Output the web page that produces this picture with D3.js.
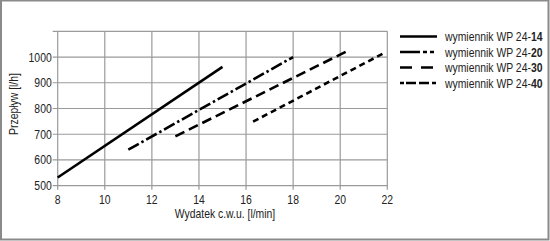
<!DOCTYPE html>
<html>
<head>
<meta charset="utf-8">
<script src="https://cdn.jsdelivr.net/npm/d3@7"></script>
<style>
  body { margin: 0; background: #fff; }
  svg { display: block; }
  text { font-family: "Liberation Sans", Arial, sans-serif; fill: #222; }
</style>
</head>
<body>
<svg width="550" height="241"></svg>
<script>
  // data
  const xTicks = [8, 10, 12, 14, 16, 18, 20, 22];
  const yTicks = [500, 600, 700, 800, 900, 1000];
  const seriesNames = ["14", "20", "30", "40"];
  const wp14 = [[8, 532], [15, 962]];
  const wp20 = [[11, 640], [18, 1000]];
  const wp30 = [[13, 692], [20.25, 1021]];
  const wp40 = [[16.3, 749], [21.85, 1015]];
  const seriesData = [wp14, wp20, wp30, wp40];

  const dashes = ["none", "12 3 2.5 3", "10 5", "6 4"];
  const legendDashes = ["none", "20 3 4 3 4 3", "12 9", "4 2 10 3 10 3 4 3 4"];

  // condensed look: squeeze the text horizontally
  const sx = 0.8;

  const svg = d3.select("svg");

  // outer frame
  svg.append("rect")
    .attr("x", 1).attr("y", 0.5)
    .attr("width", 547.5).attr("height", 239)
    .attr("fill", "none").attr("stroke", "#8a8a8a").attr("stroke-width", 2);

  const plotL = 57.7, plotR = 387.3, plotT = 31.3, plotB = 185.7;

  const x = d3.scaleLinear().domain([8, 22]).range([plotL, plotR]);
  const y = d3.scaleLinear().domain([500, 1100]).range([plotB, plotT]);

  const grid = svg.append("g").attr("stroke", "#9a9a9a").attr("stroke-width", 1.2);

  // vertical grid
  grid.selectAll(".vx")
    .data(xTicks)
    .enter()
    .append("line")
    .attr("x1", d => x(d)).attr("x2", d => x(d))
    .attr("y1", plotT).attr("y2", plotB + 4);

  // horizontal grid, including the 1100 top line
  grid.selectAll(".hy")
    .data(yTicks.concat([1100]))
    .enter()
    .append("line")
    .attr("x1", plotL - 5).attr("x2", plotR)
    .attr("y1", d => y(d)).attr("y2", d => y(d));

  // tick labels
  svg.append("g")
    .selectAll("text")
    .data(xTicks)
    .enter()
    .append("text")
    .attr("transform", d => `translate(${x(d)},${plotB + 18}) scale(${sx},1)`)
    .attr("text-anchor", "middle")
    .attr("font-size", 13)
    .text(d => d);

  svg.append("g")
    .selectAll("text")
    .data(yTicks)
    .enter()
    .append("text")
    .attr("transform", d => `translate(${plotL - 6},${y(d) + 4.5}) scale(${sx},1)`)
    .attr("text-anchor", "end")
    .attr("font-size", 13)
    .text(d => d);

  // axis titles
  svg.append("text")
    .attr("transform", `translate(225,218) scale(${sx},1)`)
    .attr("text-anchor", "middle")
    .attr("font-size", 13)
    .text("Wydatek c.w.u. [l/min]");

  svg.append("text")
    .attr("transform", `translate(18,104) rotate(-90) scale(${sx},1)`)
    .attr("text-anchor", "middle")
    .attr("font-size", 13)
    .text("Przepływ [l/h]");

  // series lines
  const line = d3.line().x(d => x(d[0])).y(d => y(d[1]));

  svg.append("g")
    .selectAll("path")
    .data(seriesData)
    .enter()
    .append("path")
    .attr("d", line)
    .attr("fill", "none")
    .attr("stroke", "#000")
    .attr("stroke-width", 2.6)
    .attr("stroke-dasharray", (d, i) => dashes[i]);

  // legend
  const legend = svg.append("g")
    .selectAll("g")
    .data(seriesNames)
    .enter()
    .append("g")
    .attr("transform", (d, i) => `translate(400,${36.5 + i * 15.5})`);

  legend.append("line")
    .attr("x1", 0).attr("x2", 37)
    .attr("stroke", "#000").attr("stroke-width", 2.6)
    .attr("stroke-dasharray", (d, i) => legendDashes[i]);

  const lt = legend.append("text")
    .attr("transform", `translate(45,4.5) scale(${sx},1)`)
    .attr("font-size", 13);
  lt.append("tspan").text("wymiennik WP 24-");
  lt.append("tspan").attr("font-weight", "bold").text(d => d);
</script>
</body>
</html>
